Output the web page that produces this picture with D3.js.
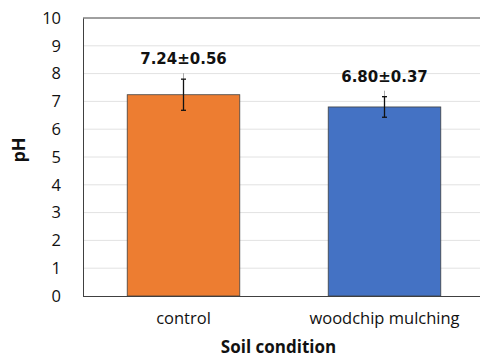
<!DOCTYPE html>
<html>
<head>
<meta charset="utf-8">
<script src="https://cdn.jsdelivr.net/npm/d3@7"></script>
<style>
  html, body { margin: 0; padding: 0; background: #fff; }
  svg { display: block; }
</style>
</head>
<body>
<svg id="chart" width="480" height="358"></svg>
<script>
// Soil pH by soil condition (mean ± SD)
const categories = ["control", "woodchip mulching"];
const means = [7.24, 6.80];
const errors = [0.56, 0.37];
const barColors = ["#ED7D31", "#4472C4"];
const yTicks = [0, 1, 2, 3, 4, 5, 6, 7, 8, 9, 10];

const svg = d3.select("#chart");
const margin = { left: 83, right: -5, top: 18, bottom: 62 };
const W = 480, H = 358;
const FONT = "'Open Sans', sans-serif";
const LABEL_FONT = "'DejaVu Sans', sans-serif";

const x = d3.scaleBand()
  .domain(categories)
  .range([margin.left, W - margin.right])
  .paddingInner(0.44)
  .paddingOuter(0.22);

const y = d3.scaleLinear()
  .domain([0, 10])
  .range([H - margin.bottom, margin.top]);

// horizontal gridlines
svg.append("g")
  .selectAll("line")
  .data(yTicks.filter(d => d > 0 && d < 10))
  .join("line")
  .attr("x1", margin.left).attr("x2", W)
  .attr("y1", d => y(d)).attr("y2", d => y(d))
  .attr("stroke", "#e2e2e2").attr("stroke-width", 1);

// top frame line
svg.append("line")
  .attr("x1", margin.left).attr("x2", W)
  .attr("y1", y(10)).attr("y2", y(10))
  .attr("stroke", "#404040").attr("stroke-width", 1);

// bars
const data = categories.map((c, i) => ({ c, m: means[i], e: errors[i], col: barColors[i] }));
svg.append("g")
  .selectAll("rect")
  .data(data)
  .join("rect")
  .attr("x", d => x(d.c))
  .attr("width", x.bandwidth())
  .attr("y", d => y(d.m))
  .attr("height", d => y(0) - y(d.m))
  .attr("fill", d => d.col)
  .attr("stroke", "#404040")
  .attr("stroke-width", 0.8);

// error bars
const eb = svg.append("g");
data.forEach(d => {
  const cx = x(d.c) + x.bandwidth() / 2;
  // faint whisker tip above the upper cap
  eb.append("line").attr("x1", cx).attr("x2", cx)
    .attr("y1", y(d.m + d.e) - 6).attr("y2", y(d.m + d.e))
    .attr("stroke", "#aaa").attr("stroke-width", 1);
  eb.append("line").attr("x1", cx).attr("x2", cx)
    .attr("y1", y(d.m + d.e)).attr("y2", y(d.m - d.e))
    .attr("stroke", "#111").attr("stroke-width", 1.3);
  [d.m + d.e, d.m - d.e].forEach(v => {
    eb.append("line").attr("x1", cx - 2.5).attr("x2", cx + 2.5)
      .attr("y1", y(v)).attr("y2", y(v))
      .attr("stroke", "#111").attr("stroke-width", 1.3);
  });
});

// value labels
svg.append("g")
  .selectAll("text")
  .data(data)
  .join("text")
  .attr("x", d => x(d.c) + x.bandwidth() / 2)
  .attr("y", d => y(d.m + d.e) - 15)
  .attr("text-anchor", "middle")
  .style("font-family", LABEL_FONT)
  .style("font-size", "15px")
  .style("font-weight", "bold")
  .attr("fill", "#111")
  .text(d => d.m.toFixed(2) + "±" + d.e.toFixed(2));

// y axis
const yAxis = svg.append("g")
  .attr("transform", `translate(${margin.left},0)`)
  .call(d3.axisLeft(y).tickValues(yTicks).tickSize(0).tickPadding(22));
yAxis.select(".domain").attr("stroke", "#404040");
yAxis.selectAll("text").style("font-size", "16.5px").attr("fill", "#111")
  .style("font-family", FONT);

// x axis
const xAxis = svg.append("g")
  .attr("transform", `translate(0,${y(0)})`)
  .call(d3.axisBottom(x).tickSize(0).tickPadding(16));
xAxis.select(".domain").attr("stroke", "#404040").attr("d", `M${margin.left},0.5H${W}`);
xAxis.selectAll("text").style("font-size", "16.5px").attr("fill", "#111")
  .style("font-family", FONT);

// axis titles
svg.append("text")
  .attr("x", 278.5)
  .attr("y", 353)
  .attr("text-anchor", "middle")
  .style("font-family", FONT)
  .style("font-size", "17px")
  .style("font-weight", "bold")
  .attr("fill", "#111")
  .text("Soil condition");

svg.append("text")
  .attr("transform", `translate(24.5,150) rotate(-90)`)
  .attr("text-anchor", "middle")
  .style("font-family", FONT)
  .style("font-size", "18px")
  .style("font-weight", "bold")
  .attr("fill", "#111")
  .text("pH");
</script>
</body>
</html>
